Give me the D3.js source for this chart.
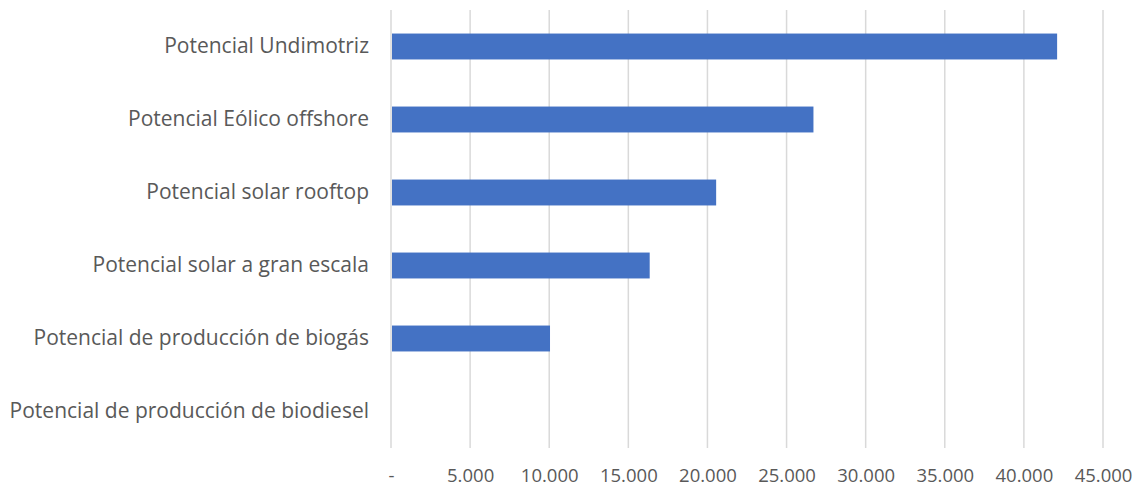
<!DOCTYPE html>
<html><head><meta charset="utf-8">
<script src="https://cdn.jsdelivr.net/npm/d3@7"></script>
<style>body{margin:0;background:#fff}svg{display:block}</style>
</head><body>
<script>
const categories = ["Potencial Undimotriz","Potencial Eólico offshore","Potencial solar rooftop","Potencial solar a gran escala","Potencial de producción de biogás","Potencial de producción de biodiesel"];
const values = [42100, 26700, 20550, 16350, 10050, 0];
const tickValues = [0,5000,10000,15000,20000,25000,30000,35000,40000,45000];
const tickLabels = ["-","5.000","10.000","15.000","20.000","25.000","30.000","35.000","40.000","45.000"];

const W=1143,H=491;
const svg=d3.select("body").append("svg").attr("width",W).attr("height",H);
const x=d3.scaleLinear().domain([0,45000]).range([391,1103]);
const y=d3.scaleBand().domain(categories).range([10,448]).paddingInner(0.645).paddingOuter(0.3225);
const font="'Open Sans', sans-serif";

// gridlines
svg.append("g").selectAll("line").data(tickValues).join("line")
  .attr("x1",d=>x(d)).attr("x2",d=>x(d)).attr("y1",10).attr("y2",448)
  .attr("stroke","#d9d9d9").attr("stroke-width",1.5);

// bars
svg.append("g").selectAll("rect").data(values).join("rect")
  .attr("x",x(0)+1).attr("y",(d,i)=>y(categories[i]))
  .attr("width",d=>Math.max(0,x(d)-x(0)-1)).attr("height",y.bandwidth())
  .attr("fill","#4472C4");

// x axis labels
const xAxis=d3.axisBottom(x).tickValues(tickValues).tickFormat((d,i)=>tickLabels[i]).tickSize(0).tickPadding(0);
const gx=svg.append("g").attr("transform","translate(0,469)").call(xAxis);
gx.select(".domain").remove();
gx.selectAll("text").attr("font-family",font).attr("font-size",18.5).attr("fill","#595959");

// y axis labels
const yAxis=d3.axisLeft(y).tickSize(0).tickPadding(0);
const gy=svg.append("g").attr("transform","translate(369,0)").call(yAxis);
gy.select(".domain").remove();
gy.selectAll("text").attr("font-family",font).attr("font-size",21).attr("fill","#595959");
</script>
</body></html>
